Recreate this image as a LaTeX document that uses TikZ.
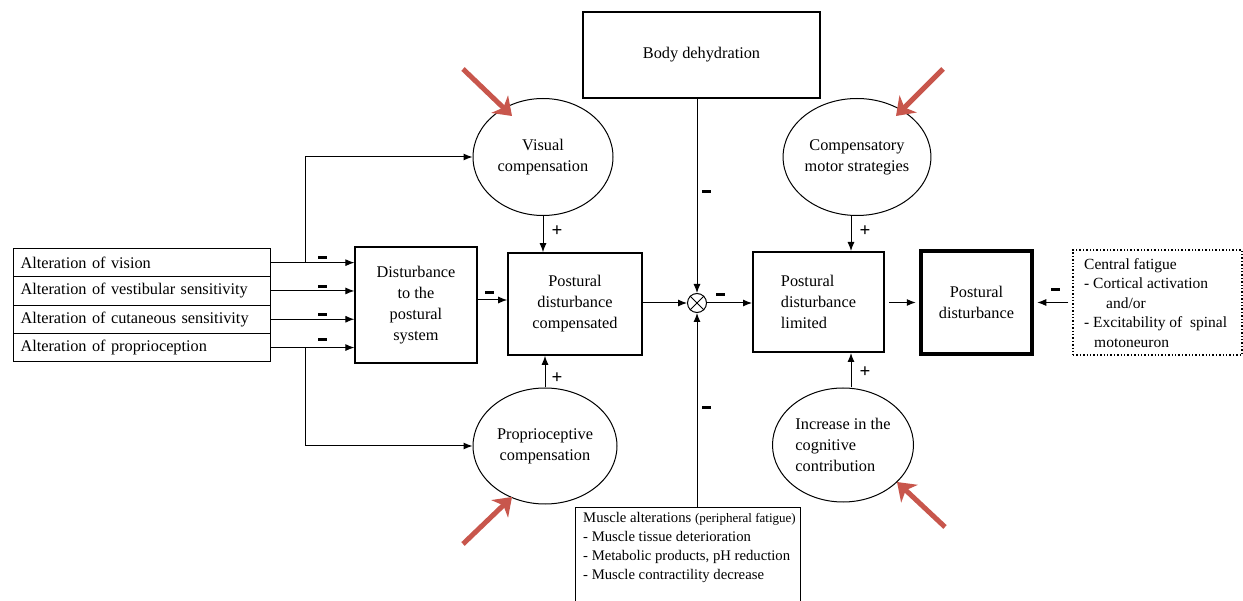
\documentclass[tikz,border=0pt]{standalone}
\usepackage{fontspec}
\setmainfont{Liberation Serif}
\usetikzlibrary{arrows.meta,shapes.geometric}
\definecolor{annot}{RGB}{200,86,76}
\begin{document}
\begin{tikzpicture}[x=1pt,y=-1pt,
  font=\fontsize{16.3}{21}\selectfont,
  arr/.style={-{Latex[length=9pt,width=7pt]}, line width=1pt},
  rowbox/.style={draw, line width=1pt, anchor=north west, minimum width=257pt, minimum height=28.3pt, inner xsep=7pt, text width=243pt, align=left, inner ysep=0pt},
  box/.style={draw, line width=1.2pt, align=center, inner sep=0pt},
  ell/.style={draw, ellipse, line width=1pt, align=center, inner sep=0pt},
  msgn/.style={fill, minimum width=9pt, minimum height=3pt, inner sep=0pt},
  psgn/.style={font=\fontsize{19}{19}\selectfont\bfseries, inner sep=0pt},
  redarr/.style={annot, line width=5pt, -{Stealth[length=17pt,width=24pt,inset=5pt]}}
]
\useasboundingbox (0,0) rectangle (1243,601);
\fill[white] (0,0) rectangle (1243,601);

% left list
\node[rowbox] (r1) at (13,248) {Alteration of vision};
\node[rowbox] (r2) at (13,276.3) {Alteration of vestibular sensitivity};
\node[rowbox] (r3) at (13,304.6) {Alteration of cutaneous sensitivity};
\node[rowbox] (r4) at (13,332.9) {Alteration of proprioception};

% main boxes
\node[box, minimum width=122pt, minimum height=116pt] (dist) at (416,305) {Disturbance\\to the\\postural\\system};
\node[box, line width=1.6pt, minimum width=134pt, minimum height=102pt] (comp) at (575,304) {Postural\\disturbance\\compensated};
\node[box, minimum width=237pt, minimum height=86pt] (bd) at (701.5,55) {Body dehydration};
\node[draw, circle, line width=1pt, minimum size=19pt, inner sep=0pt] (ox) at (697,303) {};
\draw[line width=1pt] (ox.north east) -- (ox.south west) (ox.north west) -- (ox.south east);
\node[box, line width=2pt, minimum width=131pt, minimum height=100pt, align=left] (lim) at (818.5,302) {Postural\\disturbance\\limited};
\node[box, line width=4.5pt, minimum width=111pt, minimum height=103pt] (pd) at (976.5,302.5) {Postural\\disturbance};
\node[draw, dotted, line width=1.4pt, minimum width=169pt, minimum height=105pt, inner sep=0pt] (cf) at (1157.5,302.5) {};
\node[anchor=north west, align=left, inner sep=0pt, font=\fontsize{15.5}{19.5}\selectfont] (cft) at (1084,258)
  {Central fatigue\\- Cortical activation\\\hspace*{22pt}and/or\\- Excitability of\ \ spinal\\\hspace*{10pt}motoneuron};

% ellipses
\node[ell, minimum width=140pt, minimum height=117pt] (vis) at (543,157) {Visual\\compensation};
\node[ell, minimum width=144pt, minimum height=116pt] (prop) at (545,446) {Proprioceptive\\compensation};
\node[ell, minimum width=140pt, minimum height=117pt] (cms) at (857,157) {Compensatory\\motor strategies};
\node[ell, minimum width=141pt, minimum height=114pt, align=left] (cog) at (843,445) {Increase in the\\cognitive\\contribution};

% muscle box (extends past the bottom edge)
\node[draw, line width=1.2pt, anchor=north west, minimum width=225pt, minimum height=110pt, inner sep=0pt] (mus) at (575,507) {};
\node[anchor=north west, align=left, inner sep=0pt, font=\fontsize{14.7}{19}\selectfont] (must) at (583,512)
  {Muscle alterations {\fontsize{13}{19}\selectfont(peripheral fatigue)}\\- Muscle tissue deterioration\\- Metabolic products, pH reduction\\- Muscle contractility decrease};

% connectors from list
\foreach \r in {r1,r2,r3,r4} {
  \draw[arr] (\r.east) -- (\r.east -| dist.west);
}
\coordinate (jv) at (305,0);
\draw[arr] (r1.east -| jv) |- (vis.west);
\draw[arr] (r4.east -| jv) |- (prop.west);

\coordinate (dc) at (0,300);
\draw[arr] (dist.east |- dc) -- (comp.west |- dc);
\draw[arr] (vis.south) -- (vis.south |- comp.north);
\draw[arr] (prop.north) -- (prop.north |- comp.south);
\draw[arr] (comp.east |- ox.west) -- (ox.west);
\draw[arr] (ox |- bd.south) -- (ox.north);
\draw[arr] (ox |- mus.north) -- (ox.south);
\draw[arr] (ox.east) -- (ox.east -| lim.west);
\coordinate (cx) at (851,0);
\draw[arr] (cx |- cms.south) -- (cx |- lim.north);
\draw[arr] (cx |- cog.north) -- (cx |- lim.south);
\draw[arr] ([xshift=4pt]lim.east |- pd.west) -- ([xshift=-3pt]pd.west);
\draw[arr] ([xshift=-4pt]cf.west) -- ([xshift=3pt]pd.east);

% signs
\foreach \y in {258,287,315,340} { \node[msgn] at (322,\y) {}; }
\node[msgn] at (489,293) {};
\node[msgn] at (706,192) {};
\node[msgn] at (720,295) {};
\node[msgn] at (706,408) {};
\node[msgn] at (1055,290) {};
\node[psgn] at (557,231) {+};
\node[psgn] at (557,378) {+};
\node[psgn] at (865,231) {+};
\node[psgn] at (865,372) {+};

% red annotation arrows
\coordinate (a1s) at (463,69); \coordinate (a1e) at (512,116);
\coordinate (a2s) at (943,69); \coordinate (a2e) at (896,116);
\coordinate (a3s) at (463,544); \coordinate (a3e) at (512,497);
\coordinate (a4s) at (945,527); \coordinate (a4e) at (897,482);
\draw[redarr] (a1s) -- (a1e);
\draw[redarr] (a2s) -- (a2e);
\draw[redarr] (a3s) -- (a3e);
\draw[redarr] (a4s) -- (a4e);
\end{tikzpicture}
\end{document}
